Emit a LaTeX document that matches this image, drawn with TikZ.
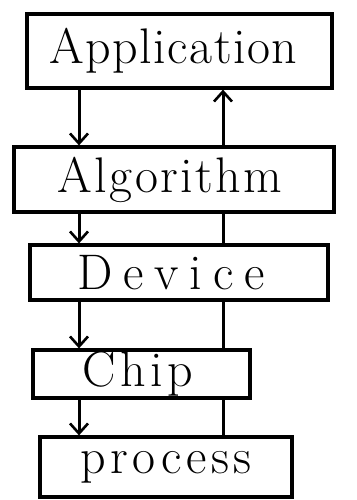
\documentclass[tikz,border=0pt]{standalone}
\usepackage{fontspec}
\setmainfont{Latin Modern Roman}
\usetikzlibrary{arrows.meta}
\begin{document}
\begin{tikzpicture}[x=1pt,y=-1pt,
  layer/.style={draw=black,line width=3.2pt,minimum width=#1,inner sep=0pt,font=\fontsize{50}{50}\selectfont},
  link/.style={draw=black,line width=3pt,line cap=round},
  arr/.style={link,-{Straight Barb[length=10pt,width=18pt,line width=2.6pt]}}]
\useasboundingbox (0,0) rectangle (356,500);
\fill[white] (0,0) rectangle (356,500);
\node[layer=305pt,minimum height=74pt] (app) at (179.5,51) {\hspace*{-12pt}\addfontfeature{LetterSpace=3}Application};
\node[layer=320pt,minimum height=65pt] (alg) at (174,179.5) {\hspace*{-8pt}\addfontfeature{LetterSpace=5}Algorithm};
\node[layer=298pt,minimum height=55pt] (dev) at (179,272.5) {\hspace*{-16pt}\addfontfeature{LetterSpace=22}Device};
\node[layer=217pt,minimum height=48pt] (chip) at (141.5,374) {\hspace*{-8pt}\addfontfeature{LetterSpace=9}Chip};
\node[layer=252pt,minimum height=60pt] (proc) at (166,467) {\addfontfeature{LetterSpace=9}process};
\coordinate (L) at (79,0);
\coordinate (R) at (223,0);
\draw[arr] (app.south -| L) -- (alg.north -| L);
\draw[arr] (alg.south -| L) -- (dev.north -| L);
\draw[arr] (dev.south -| L) -- (chip.north -| L);
\draw[arr] (chip.south -| L) -- (proc.north -| L);
\draw[arr] (alg.north -| R) -- (app.south -| R);
\draw[link] (dev.north -| R) -- (alg.south -| R);
\draw[link] (chip.north -| R) -- (dev.south -| R);
\draw[link] (proc.north -| R) -- (chip.south -| R);
\end{tikzpicture}
\end{document}
